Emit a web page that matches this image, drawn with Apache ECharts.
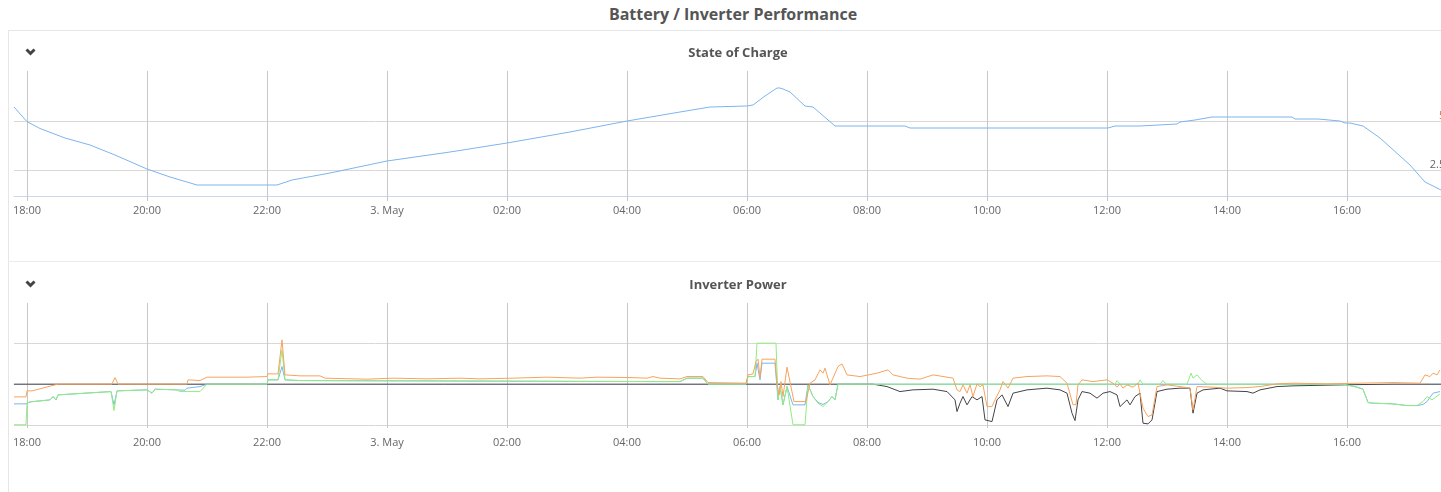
<!DOCTYPE html>
<html>
<head>
<meta charset="utf-8">
<title>Battery / Inverter Performance</title>
<script src="https://cdn.jsdelivr.net/npm/echarts@6/dist/echarts.min.js"></script>
<style>
  html, body { margin: 0; padding: 0; background: #fff; overflow: hidden; width: 1441px; height: 492px; }
  .page-title { position: absolute; left: 8px; width: 1450px; top: 3px; text-align: center; font: bold 16px 'Open Sans', sans-serif; color: #555; line-height: 22px; }
  .panel { position: absolute; left: 8px; top: 30px; width: 1500px; height: 500px; border-left: 1px solid #e6e6e6; border-top: 1px solid #e6e6e6; }
  .sep { position: absolute; left: 8px; top: 261px; width: 1500px; border-top: 1px solid #ececec; }
  #soc { position: absolute; left: 9px; top: 31px; width: 1458px; height: 230px; }
  #power { position: absolute; left: 9px; top: 263px; width: 1458px; height: 229px; }
</style>
</head>
<body>
<div class="page-title">Battery / Inverter Performance</div>
<div class="panel"></div>
<div class="sep"></div>
<div id="soc"></div>
<div id="power"></div>

<script>
// day of May + time
const tickLabels = ['2 18:00', '2 20:00', '2 22:00', '3 00:00', '3 02:00', '3 04:00',
  '3 06:00', '3 08:00', '3 10:00', '3 12:00', '3 14:00', '3 16:00']

const socTimes = ['2 17:47', '2 18:00', '2 18:13', '2 18:38', '2 19:03', '2 19:28', '2 20:00', '2 20:23', '2 20:50',
  '2 22:10', '2 22:25', '2 23:03', '3 00:00', '3 01:03', '3 02:00', '3 03:03', '3 04:00', '3 04:53', '3 05:23',
  '3 06:00', '3 06:06', '3 06:18', '3 06:30', '3 06:33', '3 06:36', '3 06:43', '3 06:58', '3 07:06', '3 07:28',
  '3 08:38', '3 08:43', '3 11:51', '3 11:53', '3 12:01', '3 12:08', '3 12:33', '3 12:35', '3 13:10', '3 13:13',
  '3 13:28', '3 13:45', '3 15:05', '3 15:08', '3 15:31', '3 15:33', '3 15:53', '3 15:58', '3 16:03', '3 16:16',
  '3 16:33', '3 17:03', '3 17:18', '3 17:34']
const socValues = [71.2, 59.5, 54, 46.4, 40.8, 32.8, 21.6, 15.2, 8.8,
  8.8, 12.8, 18.4, 28, 35.2, 42.4, 51.2, 60, 67.2, 71.2,
  72, 72.8, 80, 86.4, 86.4, 85.6, 83.2, 72, 71.2, 56,
  56, 54.4, 54.4, 56, 54.4, 56, 56, 57.6, 57.6, 59.2,
  60.8, 63.2, 63.2, 61.6, 61.6, 60, 60, 58.4, 58.4, 56,
  46.4, 24.8, 11.2, 4.8]

// power in W, [time, value]
const gridPoints = [['2 17:47', 0], ['3 08:06', 0], ['3 08:20', -118], ['3 08:33', -365], ['3 08:46', -281],
  ['3 09:06', -247], ['3 09:20', -365], ['3 09:28', -774], ['3 09:30', -1351], ['3 09:33', -937], ['3 09:36', -611],
  ['3 09:40', -1020], ['3 09:45', -611], ['3 09:50', -774], ['3 09:55', -611], ['3 09:58', -1760], ['3 10:05', -1844],
  ['3 10:10', -774], ['3 10:15', -527], ['3 10:21', -1104], ['3 10:26', -444], ['3 10:40', -281], ['3 11:00', -197],
  ['3 11:13', -281], ['3 11:20', -444], ['3 11:25', -1430], ['3 11:28', -1795], ['3 11:31', -774], ['3 11:35', -365],
  ['3 11:43', -444], ['3 11:50', -690], ['3 11:56', -444], ['3 12:03', -365], ['3 12:10', -527], ['3 12:13', -1104],
  ['3 12:20', -774], ['3 12:23', -1020], ['3 12:28', -611], ['3 12:33', -444], ['3 12:36', -1923], ['3 12:41', -1957],
  ['3 12:45', -1760], ['3 12:50', -365], ['3 13:00', -247], ['3 13:13', -197], ['3 13:23', -197], ['3 13:26', -1430],
  ['3 13:30', -444], ['3 13:36', -281], ['3 13:53', -197], ['3 14:00', -330], ['3 14:20', -365], ['3 14:26', -444],
  ['3 14:33', -281], ['3 14:50', -118], ['3 15:06', -84], ['3 15:40', -49], ['3 16:13', -20], ['3 16:46', 0], ['3 17:53', 0]]

const batteryPoints = [['2 17:47', -971], ['2 17:59', -971], ['2 18:00', -937], ['2 18:03', -873], ['2 18:23', -774],
  ['2 18:26', -611], ['2 18:29', -774], ['2 18:31', -527], ['2 18:53', -460], ['2 19:24', -365], ['2 19:27', -1020],
  ['2 19:30', -330], ['2 20:00', -281], ['2 20:05', -444], ['2 20:08', -247], ['2 20:30', -281], ['2 20:38', -300],
  ['2 20:40', -197], ['2 20:53', -118], ['2 21:00', 0], ['2 22:00', 0], ['2 22:01', 212], ['2 22:11', 212],
  ['2 22:15', 868], ['2 22:18', 212], ['2 22:33', 177], ['3 04:20', 128], ['3 04:53', 128], ['3 05:00', 296],
  ['3 05:16', 296], ['3 05:21', 0], ['3 05:59', 0], ['3 06:01', 375], ['3 06:08', 375], ['3 06:10', 1035],
  ['3 06:12', 1035], ['3 06:13', 212], ['3 06:15', 1035], ['3 06:28', 1035], ['3 06:31', -774], ['3 06:33', -118],
  ['3 06:36', -1020], ['3 06:40', -118], ['3 06:46', -1020], ['3 06:58', -1020], ['3 07:01', -35], ['3 07:06', -611],
  ['3 07:11', -900], ['3 07:16', -1000], ['3 07:21', -858], ['3 07:25', -611], ['3 07:28', -774], ['3 07:31', 0],
  ['3 15:56', 0], ['3 16:10', -148], ['3 16:16', -247], ['3 16:21', -907], ['3 16:26', -937], ['3 16:46', -971],
  ['3 17:00', -1055], ['3 17:10', -1055], ['3 17:16', -1000], ['3 17:20', -858], ['3 17:26', -444], ['3 17:33', -365]]

const inverterPoints = [['2 17:47', -2000], ['2 17:59', -2000], ['2 18:00', -937], ['2 18:03', -873], ['2 18:23', -774],
  ['2 18:26', -611], ['2 18:29', -774], ['2 18:31', -527], ['2 18:53', -460], ['2 19:24', -365], ['2 19:27', -1302],
  ['2 19:30', -330], ['2 20:00', -281], ['2 20:05', -444], ['2 20:08', -247], ['2 20:30', -281], ['2 20:33', -365],
  ['2 20:53', -365], ['2 21:00', 0], ['2 22:00', 0], ['2 22:01', 212], ['2 22:11', 212], ['2 22:15', 1691],
  ['2 22:18', 212], ['2 22:33', 177], ['3 04:20', 128], ['3 04:53', 128], ['3 05:00', 296], ['3 05:16', 296],
  ['3 05:21', 0], ['3 05:59', 0], ['3 06:01', 375], ['3 06:08', 375], ['3 06:10', 2021], ['3 06:29', 2021],
  ['3 06:31', -774], ['3 06:33', -118], ['3 06:36', -1020], ['3 06:40', -118], ['3 06:46', -2000], ['3 06:58', -2000],
  ['3 07:01', -35], ['3 07:06', -611], ['3 07:11', -937], ['3 07:13', -922], ['3 07:16', -1104], ['3 07:21', -858],
  ['3 07:25', -611], ['3 07:28', -774], ['3 07:31', 0], ['3 12:08', 0], ['3 12:10', 177], ['3 12:13', 0],
  ['3 12:31', 0], ['3 12:33', 212], ['3 12:36', 0], ['3 12:53', 0], ['3 12:56', 177], ['3 12:59', 0], ['3 13:20', 0],
  ['3 13:24', 542], ['3 13:26', 296], ['3 13:30', 458], ['3 13:35', 177], ['3 13:40', 0], ['3 15:56', 0],
  ['3 16:10', -148], ['3 16:16', -247], ['3 16:21', -907], ['3 16:26', -937], ['3 16:46', -971], ['3 17:00', -1055],
  ['3 17:10', -1055], ['3 17:16', -858], ['3 17:20', -611], ['3 17:25', -774], ['3 17:33', -478]]

const loadPoints = [['2 17:47', -626], ['2 17:59', -626], ['2 18:00', -330], ['2 18:02', -232], ['2 18:05', -330],
  ['2 18:28', -35], ['2 18:31', 0], ['2 19:25', 0], ['2 19:28', 325], ['2 19:31', 0], ['2 20:40', 0], ['2 20:41', 212],
  ['2 20:53', 177], ['2 21:00', 345], ['2 21:35', 345], ['2 21:37', 424], ['2 21:40', 345], ['2 22:00', 375],
  ['2 22:01', 508], ['2 22:11', 508], ['2 22:15', 2184], ['2 22:18', 458], ['2 22:33', 409], ['2 22:53', 409],
  ['2 22:58', 296], ['2 23:40', 247], ['3 00:06', 296], ['3 00:40', 261], ['3 01:13', 296], ['3 01:33', 261],
  ['3 02:06', 296], ['3 02:40', 345], ['3 03:13', 296], ['3 03:30', 345], ['3 04:03', 325], ['3 04:20', 296],
  ['3 04:26', 375], ['3 04:33', 296], ['3 04:53', 261], ['3 05:00', 375], ['3 05:16', 375], ['3 05:21', 79],
  ['3 05:59', 49], ['3 06:01', 458], ['3 06:06', 508], ['3 06:09', 1114], ['3 06:11', 1232], ['3 06:13', 310],
  ['3 06:15', 1232], ['3 06:28', 1232], ['3 06:30', 49], ['3 06:32', -527], ['3 06:34', 128], ['3 06:36', -611],
  ['3 06:40', 838], ['3 06:47', -858], ['3 06:59', -858], ['3 07:03', 49], ['3 07:08', 212], ['3 07:13', 705],
  ['3 07:16', 542], ['3 07:18', 789], ['3 07:23', -35], ['3 07:31', 868], ['3 07:35', 1001], ['3 07:40', 458],
  ['3 07:53', 375], ['3 08:10', 542], ['3 08:21', 705], ['3 08:26', 458], ['3 08:40', 296], ['3 08:53', 247],
  ['3 09:06', 458], ['3 09:20', 345], ['3 09:26', 296], ['3 09:30', -281], ['3 09:33', -365], ['3 09:36', -35],
  ['3 09:40', -444], ['3 09:43', -35], ['3 09:46', -611], ['3 09:50', 15], ['3 09:53', -118], ['3 09:56', -35],
  ['3 10:00', -1104], ['3 10:05', -1104], ['3 10:08', -774], ['3 10:13', -281], ['3 10:16', 128], ['3 10:21', -197],
  ['3 10:26', 296], ['3 10:40', 375], ['3 11:00', 409], ['3 11:13', 375], ['3 11:20', 49], ['3 11:26', -1020],
  ['3 11:29', -1000], ['3 11:31', -35], ['3 11:35', 212], ['3 11:46', 128], ['3 12:00', 212], ['3 12:06', 49],
  ['3 12:10', -148], ['3 12:13', 15], ['3 12:16', -197], ['3 12:20', -35], ['3 12:26', -148], ['3 12:31', 49],
  ['3 12:36', -1183], ['3 12:41', -1597], ['3 12:45', -1514], ['3 12:50', -118], ['3 13:00', -35], ['3 13:13', -118],
  ['3 13:23', -197], ['3 13:26', -1267], ['3 13:30', -118], ['3 13:46', -148], ['3 14:00', -197], ['3 14:20', -168],
  ['3 14:33', -118], ['3 14:50', 15], ['3 15:06', 49], ['3 15:40', 15], ['3 16:13', 49], ['3 16:46', 79],
  ['3 17:13', 49], ['3 17:18', 458], ['3 17:23', 375], ['3 17:26', 542], ['3 17:30', 458], ['3 17:33', 705]]

const socAxisTicks = [2500, 5000]
const powerAxisTicks = [-2000, 0, 2000]

function toTs(s) {
  const [d, hm] = s.split(' ')
  const [h, m] = hm.split(':')
  return Date.UTC(2024, 4, +d, +h, +m)
}

function pad(n) {
  return (n < 10 ? '0' : '') + n
}

function fmtTick(v) {
  const d = new Date(Number(v))
  // midnight shows the date
  if (d.getUTCHours() === 0) return d.getUTCDate() + '. May'
  return pad(d.getUTCHours()) + ':' + pad(d.getUTCMinutes())
}

const tickTs = tickLabels.map(toTs)

function timeAxis() {
  return {
    type: 'value',
    min: toTs('2 17:47'),
    max: toTs('3 17:53'),
    axisLine: { show: true, lineStyle: { color: '#ccd6eb', width: 1 } },
    axisTick: { show: true, length: 5, customValues: tickTs, lineStyle: { color: '#c8c8c8' } },
    axisLabel: {
      customValues: tickTs,
      formatter: fmtTick,
      color: '#666',
      fontSize: 11,
      fontFamily: 'Open Sans',
      margin: 9
    },
    splitLine: { show: true, lineStyle: { color: '#c8c8c8', width: 1 } }
  }
}

function chevron() {
  return [{
    type: 'polyline',
    shape: { points: [[17.5, 18.5], [21.5, 22.5], [25.5, 18.5]] },
    style: { stroke: '#444', lineWidth: 3, fill: null, lineJoin: 'miter', lineCap: 'butt' }
  }]
}

function chartTitle(text) {
  return {
    text: text,
    left: 'center',
    top: 11,
    textStyle: { fontFamily: 'Open Sans', fontSize: 13, fontWeight: 'bold', color: '#555' }
  }
}

function line(name, points, color, z) {
  return {
    name: name,
    type: 'line',
    showSymbol: false,
    symbol: 'none',
    z: z,
    lineStyle: { width: 1, color: color },
    itemStyle: { color: color },
    data: points.map(p => [toTs(p[0]), p[1]])
  }
}

const socChart = echarts.init(document.getElementById('soc'))
socChart.setOption({
  animation: false,
  title: chartTitle('State of Charge'),
  graphic: chevron(),
  grid: { left: 5, right: 7, top: 40, bottom: 65 },
  xAxis: timeAxis(),
  yAxis: [
    {
      type: 'value',
      min: 0,
      max: 100,
      show: false,
      splitLine: { show: false }
    },
    {
      type: 'value',
      position: 'right',
      min: 1173,
      max: 7551,
      axisLine: { show: false },
      axisTick: { show: false, customValues: socAxisTicks },
      axisLabel: {
        inside: true,
        customValues: socAxisTicks,
        margin: 9,
        verticalAlign: 'bottom',
        fontSize: 11,
        fontFamily: 'Open Sans',
        formatter: v => Number(v) / 1000 + 'k',
        color: v => (Number(v) === 5000 ? '#d9733b' : '#666')
      },
      splitLine: { show: true, lineStyle: { color: '#d8d8d8' } }
    }
  ],
  series: [
    {
      name: 'State of Charge',
      type: 'line',
      yAxisIndex: 0,
      showSymbol: false,
      symbol: 'none',
      lineStyle: { width: 1, color: '#7cb5ec' },
      data: socTimes.map((t, i) => [toTs(t), socValues[i]])
    }
  ]
})

const powerChart = echarts.init(document.getElementById('power'))
powerChart.setOption({
  animation: false,
  title: chartTitle('Inverter Power'),
  graphic: chevron(),
  grid: { left: 5, right: 7, top: 40, bottom: 64 },
  xAxis: timeAxis(),
  yAxis: {
    type: 'value',
    position: 'right',
    min: -2160,
    max: 4000,
    axisLine: { show: false },
    axisTick: { show: false, customValues: powerAxisTicks },
    axisLabel: { show: false, customValues: powerAxisTicks },
    splitLine: { show: true, lineStyle: { color: '#d8d8d8' } }
  },
  series: [
    line('Grid', gridPoints, '#434348', 2),
    line('Battery', batteryPoints, '#7cb5ec', 3),
    line('Inverter', inverterPoints, '#90ed7d', 4),
    line('Load', loadPoints, '#f7a35c', 5)
  ]
})
</script>
</body>
</html>
